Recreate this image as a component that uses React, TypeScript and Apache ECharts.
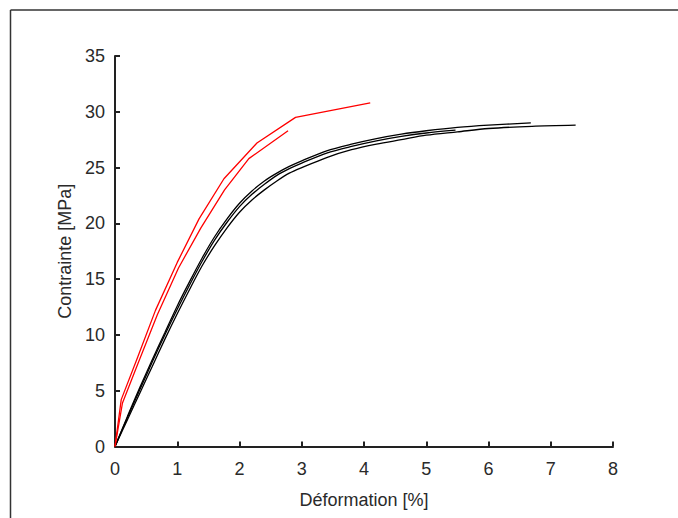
import React, { useEffect, useRef } from "react";
import * as echarts from "echarts";

// Black curves (strain %, stress MPa)
const xA = [0, 0.2, 0.4, 0.6, 0.8, 1.0, 1.2, 1.4, 1.6, 1.8, 2.0, 2.2, 2.4, 2.6, 2.8, 3.0, 3.4, 3.8, 4.2, 4.6, 5.0, 5.5, 6.0, 6.68];
const yA = [0, 2.7, 5.3, 7.8, 10.2, 12.6, 14.8, 16.9, 18.8, 20.4, 21.8, 22.9, 23.8, 24.5, 25.1, 25.6, 26.5, 27.1, 27.6, 28.0, 28.3, 28.6, 28.8, 29.0];
const xB = [0, 0.2, 0.4, 0.6, 0.8, 1.0, 1.2, 1.4, 1.6, 1.8, 2.0, 2.2, 2.4, 2.6, 2.8, 3.0, 3.4, 3.8, 4.2, 4.6, 5.0, 5.47];
const yB = [0, 2.6, 5.1, 7.6, 10.0, 12.3, 14.5, 16.6, 18.5, 20.1, 21.5, 22.6, 23.5, 24.3, 24.9, 25.4, 26.3, 26.9, 27.4, 27.8, 28.1, 28.35];
const xC = [0, 0.2, 0.4, 0.6, 0.8, 1.0, 1.2, 1.4, 1.6, 1.8, 2.0, 2.2, 2.4, 2.6, 2.8, 3.0, 3.4, 3.8, 4.2, 4.6, 5.0, 5.5, 6.0, 6.7, 7.4];
const yC = [0, 2.4, 4.8, 7.2, 9.6, 11.9, 14.1, 16.2, 18.0, 19.6, 21.0, 22.1, 23.0, 23.8, 24.5, 25.0, 25.9, 26.6, 27.1, 27.5, 27.9, 28.2, 28.5, 28.7, 28.8];

// Red curves
const xR1 = [0, 0.1, 0.35, 0.65, 1.0, 1.35, 1.75, 2.28, 2.9, 4.1];
const yR1 = [0, 4.2, 7.8, 12.2, 16.5, 20.4, 24.0, 27.2, 29.5, 30.8];
const xR2 = [0, 0.12, 0.38, 0.68, 1.02, 1.38, 1.76, 2.15, 2.78];
const yR2 = [0, 3.9, 7.6, 11.8, 16.0, 19.6, 23.0, 25.8, 28.3];

const xName = "Déformation [%]";
const yName = "Contrainte [MPa]";

const zip = (xs: number[], ys: number[]) => xs.map((x, i) => [x, ys[i]]);

const FONT = "'Liberation Sans', Arial, sans-serif";

export default function App() {
  const ref = useRef<HTMLDivElement>(null);
  useEffect(() => {
    if (!ref.current) return;
    const chart = echarts.init(ref.current, undefined, { renderer: "svg" });
    const axisCommon = {
      type: "value" as const,
      nameLocation: "middle" as const,
      nameTextStyle: { fontSize: 18, color: "#2a2a2a", fontFamily: FONT },
      axisLine: { show: true, onZero: false, lineStyle: { color: "#222", width: 2 } },
      axisTick: { show: true, inside: true, length: 5, lineStyle: { color: "#222", width: 2 } },
      splitLine: { show: false },
      axisLabel: { fontSize: 18, color: "#2a2a2a", fontFamily: FONT },
    };
    const black = (xs: number[], ys: number[]) => ({
      type: "line",
      data: zip(xs, ys),
      symbol: "none",
      smooth: 0.3,
      lineStyle: { color: "#000", width: 1.3 },
      z: 2,
    });
    const red = (xs: number[], ys: number[]) => ({
      type: "line",
      data: zip(xs, ys),
      symbol: "none",
      lineStyle: { color: "#ff0000", width: 1.3 },
      z: 3,
    });
    chart.setOption({
      animation: false,
      backgroundColor: "#fff",
      grid: { left: 115, right: 65, top: 56, bottom: 71.5, containLabel: false },
      xAxis: {
        ...axisCommon,
        min: 0,
        max: 8,
        interval: 1,
        name: xName,
        nameGap: 44,
        axisLabel: { ...axisCommon.axisLabel, margin: 13 },
      },
      yAxis: {
        ...axisCommon,
        min: 0,
        max: 35,
        interval: 5,
        name: yName,
        nameGap: 40,
        axisLabel: { ...axisCommon.axisLabel, margin: 10 },
      },
      graphic: [
        { type: "line", shape: { x1: 10.5, y1: 10, x2: 678, y2: 10 }, style: { stroke: "#333", lineWidth: 1.5 }, silent: true },
        { type: "line", shape: { x1: 10.5, y1: 10, x2: 10.5, y2: 518 }, style: { stroke: "#333", lineWidth: 1.5 }, silent: true },
      ],
      series: [
        black(xA, yA),
        black(xB, yB),
        black(xC, yC),
        red(xR1, yR1),
        red(xR2, yR2),
      ],
    });
    return () => chart.dispose();
  }, []);
  return (
    <div
      ref={ref}
      style={{ position: "absolute", left: 0, top: 0, width: 678, height: 518 }}
    />
  );
}
